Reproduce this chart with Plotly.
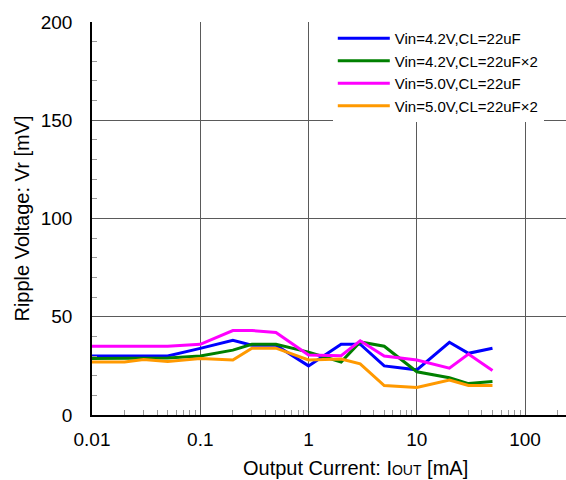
import plotly.graph_objects as go

iout = [0.01, 0.02, 0.03, 0.05, 0.1, 0.2, 0.3, 0.5, 1, 2, 3, 5, 10, 20, 30, 50]

vin42_cl22 = [30, 30, 30, 30, 33.9, 38, 35.5, 35.5, 25, 36, 36, 25, 23, 37, 31.4, 34]
vin42_cl44 = [28.8, 28.8, 29, 29, 30, 33, 36, 36, 32, 27, 37.2, 35, 22, 19, 16, 17]
vin50_cl22 = [35, 35, 35, 35, 36, 43, 43, 42, 30.5, 30.2, 37.8, 30, 28, 23.8, 31, 22.6]
vin50_cl44 = [27, 27, 28.3, 27.2, 28.8, 28, 34, 34, 28, 28.5, 26, 15, 14, 17.8, 15, 15]

series_names = ["Vin=4.2V,CL=22uF", "Vin=4.2V,CL=22uF×2", "Vin=5.0V,CL=22uF", "Vin=5.0V,CL=22uF×2"]
series_values = [vin42_cl22, vin42_cl44, vin50_cl22, vin50_cl44]
series_colors = ["#0000FF", "#008000", "#FF00FF", "#FF9900"]

x_tickvals = [0.01, 0.1, 1, 10, 100]
x_ticktext = ["0.01", "0.1", "1", "10", "100"]
y_tickvals = [0, 50, 100, 150, 200]

FONT = "Liberation Sans, Arial, sans-serif"

fig = go.Figure()
for i, (name, vals, col) in enumerate(zip(series_names, series_values, series_colors)):
    fig.add_trace(go.Scatter(
        x=iout, y=vals, mode="lines", name=name,
        line=dict(color=col, width=3),
    ))

fig.update_layout(
    width=566, height=480,
    margin=dict(l=92, r=0, t=22, b=65),
    paper_bgcolor="white", plot_bgcolor="white",
    font=dict(family=FONT, color="black", size=19),
    showlegend=True,
    legend=dict(
        x=0.508, y=1.0, xanchor="left", yanchor="top",
        bgcolor="rgba(255,255,255,1)", borderwidth=0,
        font=dict(family=FONT, size=15, color="black"),
        itemwidth=52,
    ),
    xaxis=dict(
        type="log", range=[-2, 2.378],
        tickvals=x_tickvals, ticktext=x_ticktext,
        showgrid=True, gridcolor="#5a5a5a", gridwidth=1,
        showline=True, linecolor="black", linewidth=1.5,
        ticks="inside", ticklen=5, tickcolor="#5a5a5a",
        ticklabelstandoff=6,
        minor=dict(ticks="inside", ticklen=5, tickcolor="#999999", dtick="D1", showgrid=False),
        tickfont=dict(size=19),
        zeroline=False, automargin=False,
    ),
    yaxis=dict(
        range=[0, 200],
        tickvals=y_tickvals,
        showgrid=True, gridcolor="#5a5a5a", gridwidth=1,
        showline=True, linecolor="black", linewidth=1.5,
        ticks="inside", ticklen=5, tickcolor="#5a5a5a",
        ticklabelstandoff=14,
        minor=dict(ticks="inside", ticklen=5, tickcolor="#999999", dtick=10, showgrid=False),
        tickfont=dict(size=19),
        zeroline=False, automargin=False,
        title=dict(text="Ripple Voltage: Vr [mV]", font=dict(size=20), standoff=6),
    ),
)

fig.add_annotation(
    text="Output Current: I<span style='font-size:14px'>OUT</span> [mA]",
    xref="paper", yref="paper", x=0.556, y=-0.135,
    xanchor="center", yanchor="middle", showarrow=False,
    font=dict(family=FONT, size=20, color="black"),
)

fig.write_html("out.html", config={"displayModeBar": False},
               post_script="document.body.style.margin='0';")
